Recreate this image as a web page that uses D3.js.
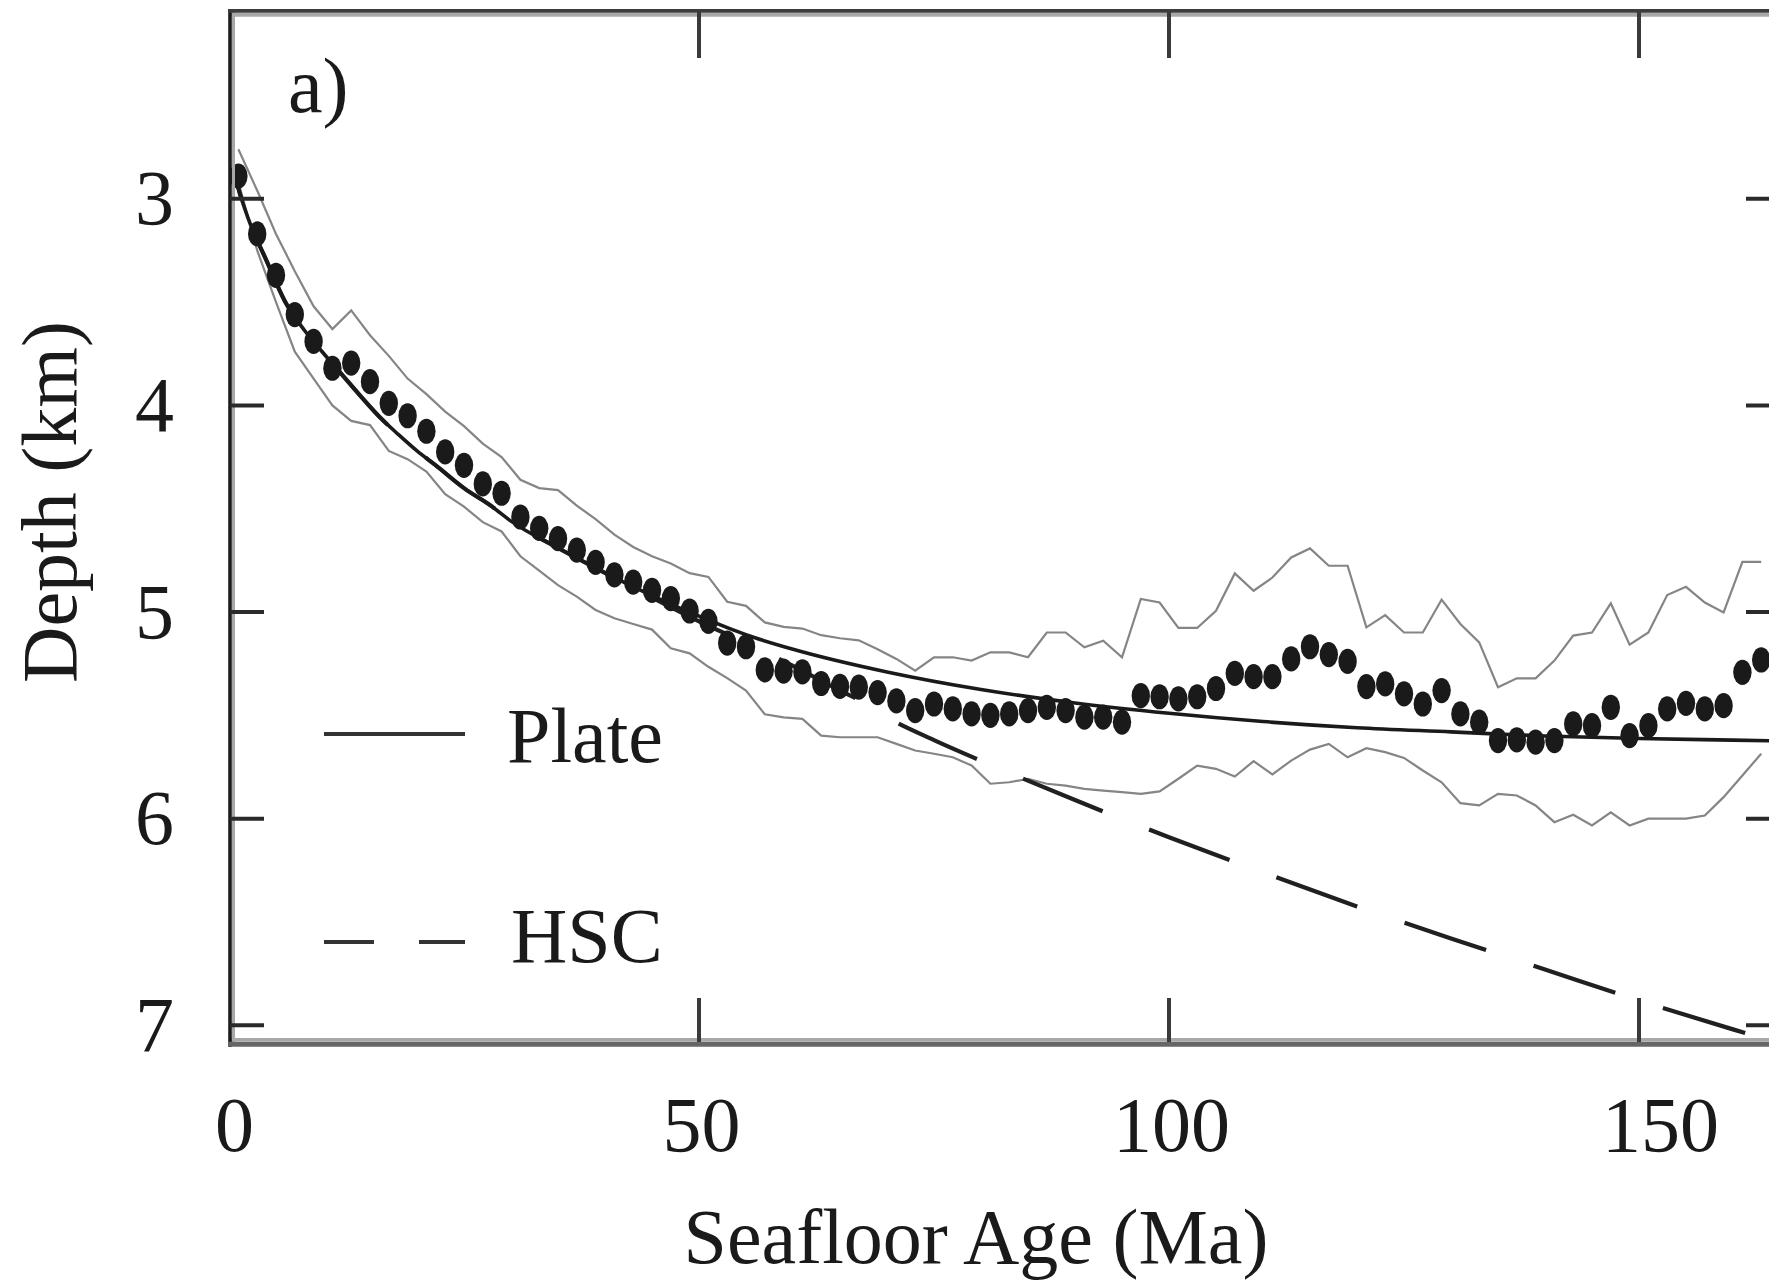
<!DOCTYPE html>
<html>
<head>
<meta charset="utf-8">
<script src="https://cdn.jsdelivr.net/npm/d3@7"></script>
<style>
  html, body { margin: 0; padding: 0; background: #ffffff; }
  svg { display: block; }
  text { font-family: "Liberation Serif", "Times New Roman", serif; fill: #1a1a1a; }
</style>
</head>
<body>
<svg id="chart" width="1769" height="1280"></svg>
<script>
// ---------------- data ----------------
const ages = [1,3,5,7,9,11,13,15,17,19,21,23,25,27,29,31,33,35,37,39,41,43,45,47,49,51,53,55,57,59,61,63,65,67,69,71,73,75,77,79,81,83,85,87,89,91,93,95,97,99,101,103,105,107,109,111,113,115,117,119,121,123,125,127,129,131,133,135,137,139,141,143,145,147,149,151,153,155,157,159,161,163];

const meanDepth = [2.89,3.17,3.37,3.56,3.69,3.82,3.795,3.885,3.99,4.05,4.125,4.225,4.29,4.38,4.425,4.54,4.595,4.645,4.70,4.76,4.82,4.855,4.895,4.935,4.995,5.045,5.15,5.168,5.28,5.286,5.29,5.346,5.36,5.363,5.39,5.43,5.477,5.445,5.469,5.493,5.50,5.493,5.477,5.461,5.477,5.509,5.509,5.533,5.405,5.41,5.42,5.41,5.37,5.297,5.313,5.313,5.227,5.168,5.206,5.239,5.361,5.348,5.396,5.445,5.38,5.493,5.533,5.622,5.619,5.63,5.622,5.541,5.55,5.461,5.598,5.55,5.469,5.442,5.469,5.453,5.292,5.232];

const upperDepth = [2.76,2.96,3.17,3.35,3.52,3.63,3.54,3.66,3.76,3.87,3.945,4.03,4.10,4.185,4.25,4.36,4.40,4.41,4.485,4.55,4.625,4.685,4.73,4.765,4.812,4.83,4.95,4.97,5.05,5.072,5.08,5.112,5.127,5.137,5.18,5.227,5.284,5.219,5.219,5.235,5.195,5.195,5.219,5.099,5.099,5.171,5.139,5.219,4.937,4.954,5.077,5.077,4.994,4.813,4.897,4.833,4.736,4.692,4.776,4.776,5.074,5.015,5.099,5.099,4.94,5.058,5.147,5.364,5.321,5.321,5.235,5.114,5.099,4.958,5.158,5.099,4.918,4.878,4.954,5.002,4.757,4.757];

const lowerDepth = [2.92,3.25,3.50,3.74,3.87,4.00,4.075,4.095,4.22,4.26,4.32,4.43,4.49,4.565,4.61,4.73,4.80,4.87,4.925,4.99,5.03,5.058,5.085,5.175,5.20,5.265,5.32,5.38,5.495,5.51,5.517,5.598,5.606,5.606,5.606,5.638,5.67,5.686,5.703,5.743,5.831,5.824,5.807,5.831,5.84,5.856,5.864,5.872,5.88,5.868,5.807,5.743,5.759,5.796,5.722,5.786,5.719,5.666,5.638,5.703,5.659,5.678,5.706,5.767,5.824,5.925,5.936,5.88,5.888,5.936,6.017,5.981,6.033,5.969,6.033,6.0,6.0,6.0,5.985,5.896,5.791,5.686];

const plateAges  = [0.5,1,2,4,6,8,10,12,14,16,18,20,22,25,28,30,35,40,45,50,55,60,70,80,90,100,110,120,130,140,150,160,166];
const plateDepth = [2.86,2.95,3.09,3.30,3.50,3.635,3.745,3.85,3.955,4.055,4.14,4.22,4.29,4.40,4.49,4.56,4.69,4.81,4.92,5.02,5.11,5.18,5.29,5.375,5.44,5.49,5.53,5.56,5.58,5.60,5.612,5.62,5.625];

const hscAges  = [0.5,1,2,4,6,8,10,12,14,16,18,20,22,25,28,30,35,40,45,50,55,60,65,67,70,75,80,90,100,110,120,130,140,150,160,166];
const hscDepth = [2.86,2.95,3.09,3.30,3.50,3.635,3.745,3.85,3.955,4.055,4.14,4.22,4.29,4.40,4.49,4.56,4.69,4.81,4.93,5.045,5.15,5.26,5.38,5.425,5.51,5.62,5.72,5.91,6.09,6.26,6.425,6.58,6.73,6.88,7.02,7.10];

const xTickValues = [0, 50, 100, 150];
const yTickValues = [3, 4, 5, 6, 7];
const legendLabels = ["Plate", "HSC"];
const panelLabel = "a)";
const xTitle = "Seafloor Age (Ma)";
const yTitle = "Depth (km)";

// ---------------- layout ----------------
const svg = d3.select("#chart");
const x = d3.scaleLinear().domain([0, 165]).range([229, 1780]);
const y = d3.scaleLinear().domain([2.1, 7.1]).range([12.9, 1045.9]);
const FS = 78;

svg.append("defs").append("clipPath").attr("id", "plotclip")
  .append("rect").attr("x", 230).attr("y", 12).attr("width", 1560).attr("height", 1032);

const plot = svg.append("g").attr("clip-path", "url(#plotclip)");

// +/- std bounds (thin grey)
const bandLine = (arr) => d3.line().x((d, i) => x(ages[i])).y(d => y(d)).curve(d3.curveLinear)(arr);
plot.append("path").attr("d", bandLine(upperDepth))
  .attr("fill", "none").attr("stroke", "#858585").attr("stroke-width", 2.2);
plot.append("path").attr("d", bandLine(lowerDepth))
  .attr("fill", "none").attr("stroke", "#858585").attr("stroke-width", 2.2);

// HSC dashed
const hscLine = d3.line().x((d, i) => x(hscAges[i])).y(d => y(d)).curve(d3.curveMonotoneX);
const hscPath = plot.append("path").attr("d", hscLine(hscDepth))
  .attr("fill", "none").attr("stroke", "#202020").attr("stroke-width", 4.2);
{
  const node = hscPath.node();
  const total = node.getTotalLength();
  let lo = 0, hi = total;
  for (let k = 0; k < 40; k++) {
    const mid = (lo + hi) / 2;
    if (node.getPointAtLength(mid).x < 898.5) lo = mid; else hi = mid;
  }
  const period = 136;
  const off = (period - (lo % period)) % period;
  hscPath.attr("stroke-dasharray", "86,50").attr("stroke-dashoffset", off);
}

// Plate model (solid)
const plateLine = d3.line().x((d, i) => x(plateAges[i])).y(d => y(d)).curve(d3.curveMonotoneX);
plot.append("path").attr("d", plateLine(plateDepth))
  .attr("fill", "none").attr("stroke", "#1a1a1a").attr("stroke-width", 3.6);

// mean depth dots
plot.selectAll("ellipse.dot").data(meanDepth).enter().append("ellipse")
  .attr("class", "dot")
  .attr("cx", (d, i) => x(ages[i])).attr("cy", d => y(d))
  .attr("rx", 9.2).attr("ry", 12.6).attr("fill", "#1a1a1a");

// ---------------- frame & ticks ----------------
const frame = svg.append("g");
// inner light edges
frame.append("line").attr("x1", 233.5).attr("x2", 233.5).attr("y1", 12).attr("y2", 1042)
  .attr("stroke", "#a8a8a8").attr("stroke-width", 3);
frame.append("line").attr("x1", 230).attr("x2", 1769).attr("y1", 14.7).attr("y2", 14.7)
  .attr("stroke", "#a8a8a8").attr("stroke-width", 4);
frame.append("line").attr("x1", 230).attr("x2", 1769).attr("y1", 1039.8).attr("y2", 1039.8)
  .attr("stroke", "#a8a8a8").attr("stroke-width", 3.5);
// dark edges
frame.append("line").attr("x1", 230).attr("x2", 230).attr("y1", 9).attr("y2", 1047)
  .attr("stroke", "#1c1c1c").attr("stroke-width", 3.6);
frame.append("line").attr("x1", 228).attr("x2", 1769).attr("y1", 10.8).attr("y2", 10.8)
  .attr("stroke", "#3c3c3c").attr("stroke-width", 3.8);
frame.append("line").attr("x1", 228).attr("x2", 1769).attr("y1", 1044.2).attr("y2", 1044.2)
  .attr("stroke", "#666666").attr("stroke-width", 5);

// x ticks (top and bottom, inward)
frame.selectAll("line.xtb").data(xTickValues.filter(d => d > 0)).enter().append("line")
  .attr("x1", d => x(d)).attr("x2", d => x(d)).attr("y1", 998).attr("y2", 1042)
  .attr("stroke", "#3a3a3a").attr("stroke-width", 4);
frame.selectAll("line.xtt").data(xTickValues.filter(d => d > 0)).enter().append("line")
  .attr("x1", d => x(d)).attr("x2", d => x(d)).attr("y1", 12).attr("y2", 58)
  .attr("stroke", "#3a3a3a").attr("stroke-width", 4);
// y ticks (left and right, inward)
frame.selectAll("line.ytl").data(yTickValues).enter().append("line")
  .attr("x1", 230).attr("x2", 264).attr("y1", d => y(d)).attr("y2", d => y(d))
  .attr("stroke", "#2a2a2a").attr("stroke-width", 4);
frame.selectAll("line.ytr").data(yTickValues).enter().append("line")
  .attr("x1", 1746).attr("x2", 1780).attr("y1", d => y(d)).attr("y2", d => y(d))
  .attr("stroke", "#2a2a2a").attr("stroke-width", 4);

// tick labels via d3 axes
const xAxis = svg.append("g").attr("transform", "translate(0,1044)")
  .call(d3.axisBottom(x).tickValues(xTickValues).tickSize(0).tickPadding(52).tickFormat(d3.format("d")));
xAxis.select(".domain").remove();
xAxis.selectAll("text").attr("font-size", FS).attr("font-family", "Liberation Serif, Times New Roman, serif")
  .attr("fill", "#1a1a1a").attr("dx", d => d === 150 ? 21 : (d === 0 ? 5 : 2));

const yAxis = svg.append("g").attr("transform", "translate(230,0)")
  .call(d3.axisLeft(y).tickValues(yTickValues).tickSize(0).tickPadding(56).tickFormat(d3.format("d")));
yAxis.select(".domain").remove();
yAxis.selectAll("text").attr("font-size", FS).attr("font-family", "Liberation Serif, Times New Roman, serif")
  .attr("fill", "#1a1a1a");

// axis titles
svg.append("text").attr("x", 976).attr("y", 1263).attr("text-anchor", "middle")
  .attr("font-size", FS).text(xTitle);
svg.append("text").attr("transform", "translate(76,502) rotate(-90)").attr("text-anchor", "middle")
  .attr("font-size", FS).text(yTitle);

// panel label
svg.append("text").attr("x", 288).attr("y", 112).attr("font-size", FS).text(panelLabel);

// legend
const leg = svg.append("g");
leg.append("line").attr("x1", 324).attr("x2", 465).attr("y1", 734).attr("y2", 734)
  .attr("stroke", "#333333").attr("stroke-width", 4);
leg.append("text").attr("x", 507).attr("y", 762).attr("font-size", FS).text(legendLabels[0]);
leg.append("line").attr("x1", 324).attr("x2", 465).attr("y1", 942).attr("y2", 942)
  .attr("stroke", "#333333").attr("stroke-width", 4).attr("stroke-dasharray", "50,45");
leg.append("text").attr("x", 511).attr("y", 962).attr("font-size", FS).text(legendLabels[1]);
</script>
</body>
</html>
